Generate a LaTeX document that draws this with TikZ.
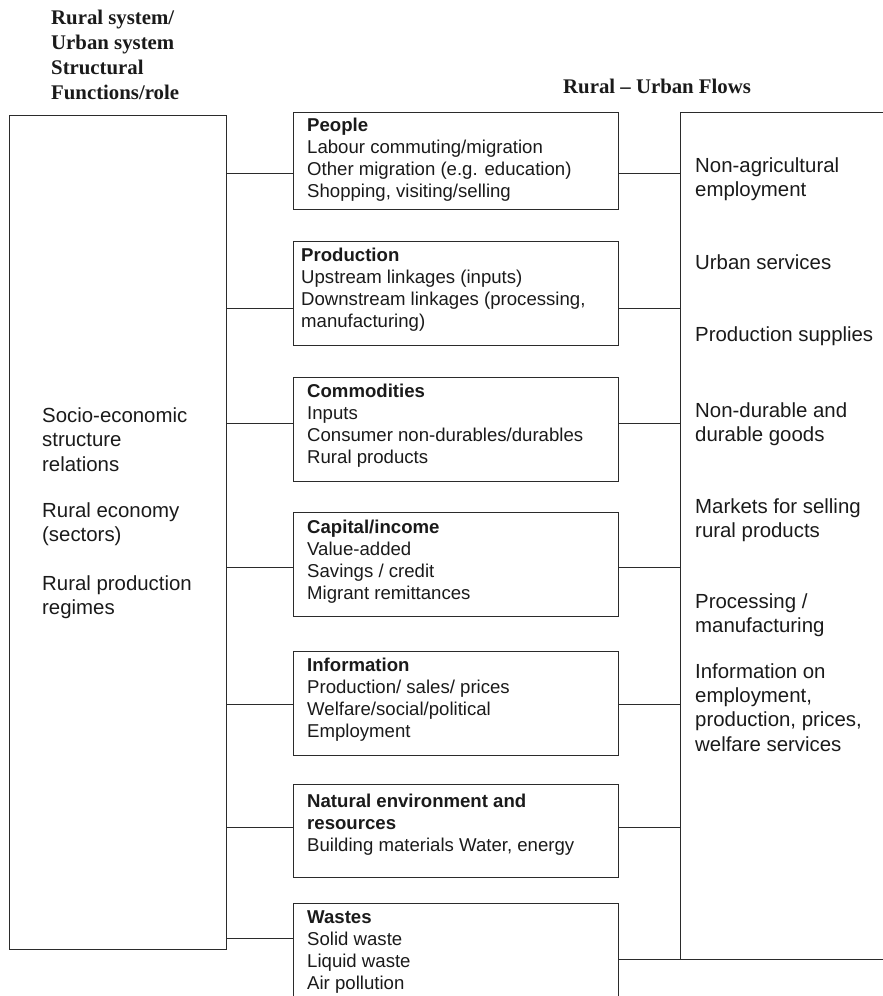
\documentclass[tikz,border=0pt]{standalone}
\usepackage{fontspec}
\setmainfont{Liberation Serif}
\setsansfont{Liberation Sans}
\usetikzlibrary{positioning}
\definecolor{rule}{HTML}{2B2B2B}
\definecolor{ink}{HTML}{1A1A1A}

\begin{document}
\begin{tikzpicture}[x=1pt,y=-1pt,
    frame/.style={draw=rule,line width=1pt,inner sep=0pt,outer sep=0pt,anchor=north west},
    link/.style={draw=rule,line width=1pt},
    head/.style={font=\rmfamily\bfseries\fontsize{20.8}{25}\selectfont,align=left,inner sep=0pt,anchor=base west,text=ink},
    side/.style={font=\sffamily\fontsize{20.4}{24.4}\selectfont,align=left,inner sep=0pt,anchor=base west,text=ink},
    item/.style={font=\sffamily\fontsize{18.6}{22.3}\selectfont,align=left,inner sep=0pt,anchor=base west,text=ink}]
  \path[use as bounding box,clip] (0,0) rectangle (883,996);
  % headings (placed at the baseline of their last line)
  \node[head] (syshead) at (51,99) {Rural system/\\Urban system\\Structural\\Functions/role};
  \node[head] (flowhead) at (563,93) {Rural -- Urban Flows};
  % outer columns
  \node[frame,minimum width=217,minimum height=834] (system) at (9,115) {};
  \node[frame,minimum width=230,minimum height=847] (urban) at (680,112) {};
  \node[side] (sys1) at (42,471) {Socio-economic\\structure\\relations};
  \node[side] (sys2) at (42,541.4) {Rural economy\\(sectors)};
  \node[side] (sys3) at (42,614.4) {Rural production\\regimes};
  \node[side] (urb1) at (695,196.6) {Non-agricultural\\employment};
  \node[side] (urb2) at (695,269) {Urban services};
  \node[side] (urb3) at (695,341) {Production supplies};
  \node[side] (urb4) at (695,441.4) {Non-durable and\\durable goods};
  \node[side] (urb5) at (695,537.4) {Markets for selling\\rural products};
  \node[side] (urb6) at (695,632.4) {Processing /\\manufacturing};
  \node[side] (urb7) at (695,751.2) {Information on\\employment,\\production, prices,\\welfare services};
  % flow boxes
  \foreach \b/\t/\h in {people/112/97,production/241/104,commodities/377/104,capital/512/104,information/651/104,nature/784/93,wastes/903/120}
    \node[frame,minimum width=325,minimum height=\h] (\b) at (293,\t) {};
  \node[item] (peopletext) at (307,197.9) {\textbf{People}\\Labour commuting/migration\\Other migration (e.g. education)\\Shopping, visiting/selling};
  \node[item] (productiontext) at (301,327.9) {\textbf{Production}\\Upstream linkages (inputs)\\Downstream linkages (processing,\\manufacturing)};
  \node[item] (commoditiestext) at (307,463.9) {\textbf{Commodities}\\Inputs\\Consumer non-durables/durables\\Rural products};
  \node[item] (capitaltext) at (307,599.9) {\textbf{Capital/income}\\Value-added\\Savings / credit\\Migrant remittances};
  \node[item] (informationtext) at (307,737.9) {\textbf{Information}\\Production/ sales/ prices\\Welfare/social/political\\Employment};
  \node[item] (naturetext) at (307,851.6) {\textbf{Natural environment and}\\\textbf{resources}\\Building materials Water, energy};
  \node[item] (wastestext) at (307,989.9) {\textbf{Wastes}\\Solid waste\\Liquid waste\\Air pollution};
  % connectors
  \foreach \b/\yl/\yr in {people/173/173,production/308/308,commodities/423/423,capital/567/567,information/704/704,nature/827/827,wastes/938/959}{
    \draw[link] (system.east |- 0,\yl) -- (\b.west |- 0,\yl);
    \draw[link] (\b.east |- 0,\yr) -- (urban.west |- 0,\yr);
  }
\end{tikzpicture}
\end{document}
